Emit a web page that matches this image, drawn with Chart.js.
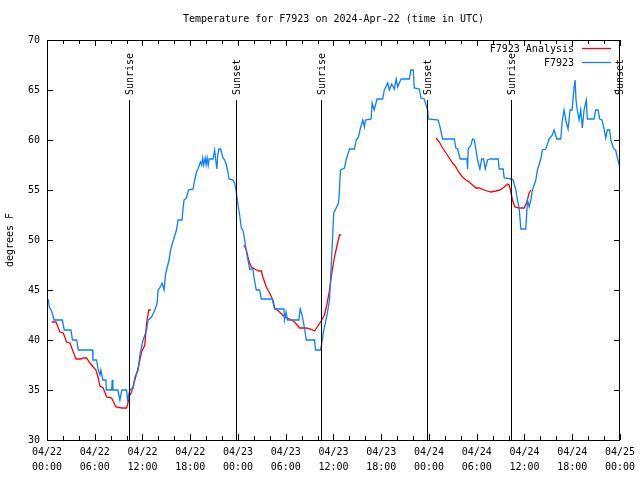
<!DOCTYPE html>
<html>
<head>
<meta charset="utf-8">
<script src="https://cdn.jsdelivr.net/npm/chart.js@4"></script>
<style>
html,body{margin:0;padding:0;background:#fff;}
#c{display:block;}
</style>
</head>
<body>
<canvas id="c" width="640" height="480"></canvas>
<script>
// ---- data (x = hours since 2024-04-22 00:00 UTC) ----
const titleText = "Temperature for F7923 on 2024-Apr-22 (time in UTC)";
const yAxisTitle = "degrees F";
const seriesNames = ["F7923 Analysis", "F7923"];

const obsHours = [0,0.16,0.29,0.5,0.66,0.88,1.92,2.17,3.01,3.2,3.73,3.93,5.73,5.77,6.23,6.44,6.65,6.77,6.9,7.02,7.4,7.46,8.12,8.2,8.28,8.9,9.16,9.41,10.0,10.12,10.41,10.83,11.04,11.45,11.67,11.88,12.08,12.51,12.71,13.13,13.55,13.84,13.96,14.17,14.46,14.71,14.89,15.02,15.34,15.52,15.77,15.97,16.27,16.47,16.97,17.1,17.22,17.52,17.77,18.35,18.56,18.78,18.98,19.28,19.44,19.57,19.69,19.88,20.0,20.13,20.26,20.36,20.86,21.07,21.2,21.36,21.45,21.61,21.83,22.12,22.33,22.54,22.74,22.87,23.37,23.58,23.71,23.87,24.0,24.21,24.42,24.62,24.84,25.13,25.38,25.46,25.88,26.0,26.3,26.72,26.93,28.31,28.6,29.77,29.85,30.04,30.23,31.65,31.82,32.05,32.36,32.58,33.62,33.74,34.37,34.5,34.68,34.87,35.19,35.5,35.71,35.91,36.04,36.34,36.63,36.75,36.88,37.38,37.59,38.01,38.64,38.85,39.14,39.39,39.68,39.89,40.02,40.73,40.86,41.11,41.48,42.18,42.39,42.81,43.02,43.31,43.65,43.87,44.07,44.49,45.53,45.74,46.03,46.15,46.79,47.0,47.41,47.63,47.83,47.92,49.17,49.42,49.71,51.18,51.39,51.59,51.93,52.77,52.85,52.93,53.27,53.47,53.69,53.9,54.1,54.4,54.63,54.85,55.07,55.36,55.7,56.7,56.82,57.33,57.45,58.37,58.58,58.92,59.12,59.33,59.55,60.17,60.38,60.59,60.8,61.0,61.43,61.63,62.05,62.25,62.68,63.1,63.51,63.72,64.06,64.56,64.76,64.98,65.19,65.48,65.73,65.98,66.23,66.36,66.48,66.64,66.86,67.07,67.27,67.49,67.77,67.9,68.74,68.95,69.24,69.46,69.74,69.99,70.21,70.41,70.71,70.83,71.16,71.46,71.75,71.97];
const obsTemps = [44.2,44,43.3,43,42.7,42,42,41,41,40,40,39,39,38,38,37,36.5,37,36.5,36,36,35,35,36,35,35,34,35,35,34,35,35.2,36.3,37,38.5,39.3,40,41,42,42.3,43,43.7,45,45.2,45.7,45,46.5,47,48,49,49.7,50.2,51,52,52,53.2,54,54.2,55,55.1,56,56.8,57.1,57.8,57.5,58.2,57.5,58.2,57.5,58.2,57.5,58.1,58.1,59,58,57.1,58.5,59.1,59.1,58.2,58,57.5,56.8,56.1,56,55.7,55.2,54.3,53.5,52.5,51.2,51,50,48.5,47.5,47.1,47.1,46.3,45,45,44.1,44.1,43.1,43.1,42,42.8,42,42,43.1,42.5,41.2,40,40,39,39,39.5,40.5,41.3,42.5,44,47.3,50.7,52.7,53.2,53.7,55,57,57.2,58,59.1,59.1,60,60.3,61.2,62,61.3,62,62.1,63.7,63,64.1,64.1,65,65.7,65,65.6,65.1,66.1,65.3,66.1,66.1,67,67,65.2,65.1,64.2,64.1,63.5,63,62.1,62,61.2,60.1,60.1,59.2,59.1,58.1,58.1,57.1,59.1,59.5,60.1,60,59.1,58,57.1,58.1,58.1,57.1,58,58.1,58.1,57.1,57.1,56.2,56.1,56,55,54,53.2,51.1,51.1,54,53.3,54,55,56,57,58.1,59,59.1,60.1,60.5,61,60.1,60.1,62,63,62,61.1,63,63,65.2,66,64,63,62,63,61.2,63,64,62.1,62.1,63,63,62.1,62,61.2,60.2,61,61,60.1,59.2,59,58,57.3];

const anaHours = [0.59,1.13,1.42,1.63,2.04,2.47,2.89,3.3,3.64,4.26,4.55,4.98,5.39,5.81,6.15,6.44,6.65,7.06,7.49,8.12,8.66,9.37,10.0,10.2,10.41,10.62,11.04,11.45,11.88,12.29,12.51,12.79,13.05,
  18.0,
  24.75,25.05,25.25,25.46,25.68,26.09,26.63,26.93,27.13,27.56,27.97,28.39,28.6,29.23,29.85,30.48,31.11,31.74,32.58,33.12,33.62,33.96,34.37,34.87,35.21,35.5,35.79,36.13,36.46,36.75,36.97,
  42.0,
  48.88,49.3,49.71,50.14,50.55,50.97,51.39,51.81,52.22,52.65,53.06,53.47,53.9,54.32,54.94,55.78,56.41,56.95,57.45,57.87,58.08,58.29,58.49,58.79,59.33,59.96,60.3,60.59,60.8];
const anaTemps = [41.8,41.8,41.2,40.8,40.7,39.8,39.7,38.8,38.1,38.1,38.2,38.2,37.7,37.3,37,36.2,35.4,35.2,34.3,34.2,33.3,33.2,33.2,33.8,34.5,34.8,36,37.2,38.8,39.5,41.7,43,43,
  null,
  49.5,49,48.3,47.7,47.3,47.1,46.9,46.9,46.3,45.3,44.7,44,43.2,42.8,42.3,42.1,41.8,41.2,41.2,41.1,40.9,41.3,41.8,42.5,43.7,45,46.7,48.3,49.5,50.5,50.5,
  null,
  60.2,59.8,59.2,58.7,58.2,57.7,57.3,56.7,56.3,56,55.8,55.5,55.2,55.2,55,54.8,54.9,55,55.3,55.6,55.5,54.8,54,53.3,53.2,53.2,53.8,54.7,55];

const sunHours = [10.29, 23.77, 34.37, 47.79, 58.33, 71.88];
const sunLabels = ["Sunrise", "Sunset", "Sunrise", "Sunset", "Sunrise", "Sunset"];
const sunLineTop = 64; // degrees F where the marker lines start

const tickDates = ["04/22","04/22","04/22","04/22","04/23","04/23","04/23","04/23","04/24","04/24","04/24","04/24","04/25"];
const tickTimes = ["00:00","06:00","12:00","18:00","00:00","06:00","12:00","18:00","00:00","06:00","12:00","18:00","00:00"];

// ---- chart ----
const FONT = "DejaVu Sans Mono";
const RED = "#ff0000";
const BLUE = "#0a80ff";

const toXY = (xs, ys) => xs.map((x, i) => ({x: x, y: ys[i]}));

const decorPlugin = {
  id: "decor",
  afterDraw(chart) {
    const ctx = chart.ctx;
    const a = chart.chartArea;
    const xs = chart.scales.x, ys = chart.scales.y;
    ctx.save();
    ctx.strokeStyle = "#000";
    ctx.lineWidth = 1;
    // sunrise / sunset lines
    const yTop = Math.round(ys.getPixelForValue(sunLineTop));
    sunHours.forEach((h, i) => {
      const px = Math.round(xs.getPixelForValue(h)) + 0.5;
      ctx.beginPath();
      ctx.moveTo(px, yTop);
      ctx.lineTo(px, a.bottom);
      ctx.stroke();
      ctx.save();
      ctx.translate(px + 0.5, yTop - 5);
      ctx.rotate(-Math.PI / 2);
      ctx.fillStyle = "#000";
      ctx.font = "10px '" + FONT + "'";
      ctx.textAlign = "left";
      ctx.textBaseline = "middle";
      ctx.fillText(sunLabels[i], 0, 0);
      ctx.restore();
    });
    // border
    ctx.strokeRect(Math.round(a.left) + 0.5, Math.round(a.top) + 0.5, Math.round(a.right - a.left) - 1, Math.round(a.bottom - a.top));
    // x ticks (every 2 h), inward, mirrored
    ctx.beginPath();
    for (let v = 0; v <= 72; v += 2) {
      const px = Math.round(xs.getPixelForValue(v)) + 0.5;
      const len = (v % 6 === 0) ? 6 : 4;
      ctx.moveTo(px, a.bottom); ctx.lineTo(px, a.bottom - len);
      ctx.moveTo(px, a.top); ctx.lineTo(px, a.top + len);
    }
    // y ticks (every 5), inward, mirrored
    for (let v = 30; v <= 70; v += 5) {
      const py = Math.round(ys.getPixelForValue(v)) + 0.5;
      ctx.moveTo(a.left, py); ctx.lineTo(a.left + 6, py);
      ctx.moveTo(a.right, py); ctx.lineTo(a.right - 6, py);
    }
    ctx.stroke();
    // title
    ctx.fillStyle = "#000";
    ctx.font = "10px '" + FONT + "'";
    ctx.textAlign = "center";
    ctx.textBaseline = "middle";
    ctx.fillText(titleText, (a.left + a.right) / 2, 19);
    // y-axis title
    ctx.save();
    ctx.translate(10, (a.top + a.bottom) / 2);
    ctx.rotate(-Math.PI / 2);
    ctx.fillText(yAxisTitle, 0, 0);
    ctx.restore();
    // legend
    const colors = [RED, BLUE];
    ctx.textAlign = "right";
    seriesNames.forEach((name, i) => {
      const yy = 49 + i * 14;
      ctx.fillStyle = "#000";
      ctx.fillText(name, 574, yy);
      ctx.strokeStyle = colors[i];
      ctx.lineWidth = 1.3;
      ctx.beginPath();
      ctx.moveTo(582, yy - 0.5);
      ctx.lineTo(611, yy - 0.5);
      ctx.stroke();
    });
    ctx.restore();
  }
};

new Chart(document.getElementById("c"), {
  type: "line",
  data: {
    datasets: [
      {label: seriesNames[0], data: toXY(anaHours, anaTemps), borderColor: RED, borderWidth: 1.3, pointRadius: 0, tension: 0, spanGaps: false, order: 2},
      {label: seriesNames[1], data: toXY(obsHours, obsTemps), borderColor: BLUE, borderWidth: 1.3, pointRadius: 0, tension: 0, order: 1}
    ]
  },
  options: {
    responsive: false,
    animation: false,
    devicePixelRatio: 1,
    layout: {padding: {top: 40, right: 19, left: 0, bottom: 0}},
    plugins: {legend: {display: false}, title: {display: false}, tooltip: {enabled: false}},
    scales: {
      x: {
        type: "linear", min: 0, max: 72,
        grid: {display: false, drawTicks: false},
        border: {display: false},
        afterFit(s) { s.height = 40; },
        afterBuildTicks(s) {
          const t = [];
          for (let v = 0; v <= 72; v += 6) t.push({value: v});
          s.ticks = t;
        },
        ticks: {
          autoSkip: false, maxRotation: 0, minRotation: 0, padding: 5,
          color: "#000",
          font: {family: FONT, size: 10, lineHeight: 1.5},
          callback: (v) => { const i = Math.round(v / 6); return [tickDates[i], tickTimes[i]]; }
        }
      },
      y: {
        min: 30, max: 70,
        grid: {display: false, drawTicks: false},
        border: {display: false},
        afterFit(s) { s.width = 47; },
        ticks: {stepSize: 5, padding: 7, color: "#000", font: {family: FONT, size: 10}}
      }
    }
  },
  plugins: [decorPlugin]
});
</script>
</body>
</html>
